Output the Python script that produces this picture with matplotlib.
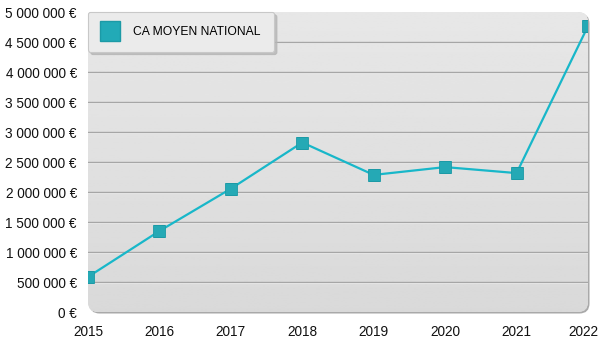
import matplotlib
matplotlib.use("Agg")
import matplotlib.pyplot as plt
import numpy as np
from matplotlib.patches import FancyBboxPatch
from matplotlib.lines import Line2D
from matplotlib.ticker import FuncFormatter
from matplotlib.transforms import ScaledTranslation

annees = [2015, 2016, 2017, 2018, 2019, 2020, 2021, 2022]
ca_moyen = [585000, 1350000, 2055000, 2825000, 2285000, 2415000, 2315000, 4765000]
serie = "CA MOYEN NATIONAL"

plt.rcParams['font.family'] = ['Liberation Sans', 'DejaVu Sans']

fig = plt.figure(figsize=(6, 3.5), dpi=100)
ax = fig.add_axes([88 / 600, 38 / 350, 500 / 600, 300 / 350])
ax.patch.set_visible(False)
for s in ax.spines.values():
    s.set_visible(False)

# fond arrondi avec degrade gris et petite ombre
asp = 500 / 300
ombre = FancyBboxPatch((0.003, -0.005), 1, 1, boxstyle="round,pad=0,rounding_size=0.02",
                       mutation_aspect=asp, transform=ax.transAxes,
                       facecolor='#a9a9a9', edgecolor='none', zorder=0, clip_on=False)
ax.add_patch(ombre)
fond = FancyBboxPatch((0, 0), 1, 1, boxstyle="round,pad=0,rounding_size=0.02",
                      mutation_aspect=asp, transform=ax.transAxes,
                      facecolor='#e0e0e0', edgecolor='none', zorder=0.5, clip_on=False)
ax.add_patch(fond)
grad = np.linspace(217, 231, 256).reshape(-1, 1) / 255
img = ax.imshow(grad, cmap='gray', vmin=0, vmax=1, extent=[0, 1, 0, 1],
                transform=ax.transAxes, aspect='auto', origin='lower', zorder=0.6)
img.set_clip_path(fond)

ax.set_xlim(2015, 2022)
ax.set_ylim(0, 5000000)

# lignes de grille
for v in range(500000, 5000000, 500000):
    ax.axhline(v - 14000, color='#f4f4f4', lw=0.8, zorder=1)
    ax.axhline(v, color='#a6a6a6', lw=1.0, zorder=1.1)

ligne, = ax.plot(annees, ca_moyen, color='#18b7c9', lw=1.6, marker='s', ms=8.3,
                 mfc='#25a9b5', mec='#1c9aa6', mew=0.6, zorder=3)
ligne.set_clip_path(fond)

ax.set_xticks(annees)
ax.set_yticks(range(0, 5000001, 500000))
ax.yaxis.set_major_formatter(FuncFormatter(lambda v, p: f"{int(v):,}".replace(',', ' ') + " €"))
ax.tick_params(axis='both', length=0, labelsize=9.8, colors='#111111')
ax.tick_params(axis='y', pad=8)
ax.tick_params(axis='x', pad=9)

# le dernier libelle est decale pour rester dans la figure
fig.canvas.draw()
dernier = ax.get_xticklabels()[-1]
dernier.set_transform(dernier.get_transform() + ScaledTranslation(-5 / 100, 0, fig.dpi_scale_trans))

poignee = Line2D([], [], ls='none', marker='s', ms=14.5, mfc='#22aab7', mec='#1c9aa6')
leg = ax.legend([poignee], [serie], loc='upper left', bbox_to_anchor=(0, 1), borderaxespad=0,
                fontsize=8.7, frameon=True, fancybox=True, shadow={'color': '#b5b5b5', 'alpha': 0.8},
                handlelength=1.4, handletextpad=1.15, borderpad=1.15)
cadre = leg.get_frame()
cadre.set_facecolor('#ebebeb')
cadre.set_edgecolor('#c8c8c8')
cadre.set_alpha(1)
cadre.set_linewidth(0.8)
leg.set_zorder(5)

fig.savefig("out.png", dpi=100)
